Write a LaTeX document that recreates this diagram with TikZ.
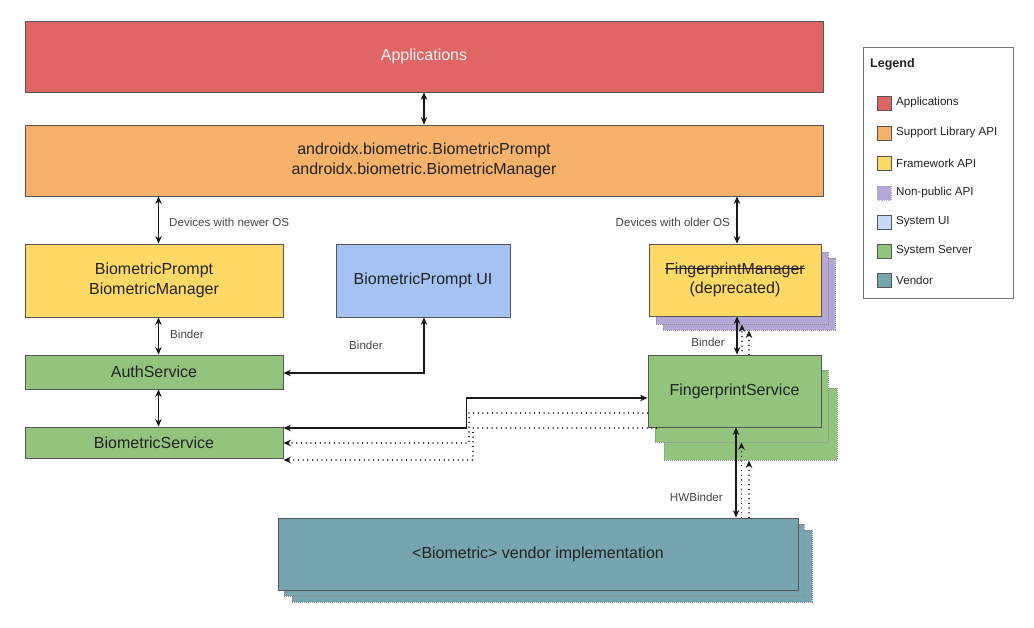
\documentclass[tikz,border=0pt]{standalone}
\usepackage{fontspec}
\setmainfont{Liberation Sans}
\newsavebox{\strkbox}
\newcommand{\mystrike}[1]{\sbox{\strkbox}{#1}\rlap{\rule[0.32em]{\wd\strkbox}{0.9pt}}\usebox{\strkbox}}
\usetikzlibrary{arrows.meta,calc}
\definecolor{cApp}{HTML}{E06666}
\definecolor{cSup}{HTML}{F6B26B}
\definecolor{cFw}{HTML}{FFD966}
\definecolor{cNp}{HTML}{B4A7D6}
\definecolor{cUI}{HTML}{A4C2F4}
\definecolor{cUIl}{HTML}{C9DAF8}
\definecolor{cSrv}{HTML}{93C47D}
\definecolor{cVen}{HTML}{76A5AF}
\definecolor{cLine}{HTML}{555555}
\definecolor{cTxt}{HTML}{222222}
\definecolor{cLbl}{HTML}{444444}
\tikzset{
  box/.style={draw=cLine, line width=0.9pt, text=cTxt, font=\fontsize{16}{19.5}\selectfont, align=center, inner sep=0pt},
  shadowbox/.style={draw=black!45, line width=0.8pt, dash pattern=on 0.8pt off 1.2pt, inner sep=0pt},
  lbl/.style={text=cLbl, font=\fontsize{11.6}{13}\selectfont, inner sep=0pt},
  legtxt/.style={text=cTxt, font=\fontsize{11.6}{13}\selectfont, inner sep=0pt, anchor=west},
  swatch/.style={draw=cLine, line width=0.8pt, minimum width=14, minimum height=14, inner sep=0pt},
  tip/.tip={Stealth[length=7.5pt,width=6.5pt]},
  dbl/.style={tip-tip, line width=1.2pt, draw=black!90},
  dotarr/.style={-tip, line width=1.3pt, draw=black!90, line cap=round, dash pattern=on 0.1pt off 4.6pt},
}
\begin{document}
\begin{tikzpicture}[x=1pt,y=-1pt]
\useasboundingbox (0,0) rectangle (1034,628);
% top layers
\node[box, fill=cApp, text=white!95!black, minimum width=798, minimum height=71] (app) at (424,56.5) {Applications};
\node[box, fill=cSup, minimum width=798, minimum height=71] (sup) at (424,160.5) {androidx.biometric.BiometricPrompt\\androidx.biometric.BiometricManager};
% framework
\node[box, fill=cFw, minimum width=258, minimum height=73] (bp) at (154,280.5) {BiometricPrompt\\BiometricManager};
\node[box, fill=cUI, minimum width=174, minimum height=73] (ui) at (423,280.5) {BiometricPrompt UI};
% fingerprint manager stack
\node[shadowbox, fill=cNp, minimum width=172, minimum height=72] (fmS2) at (749,294) {};
\node[shadowbox, fill=cNp, minimum width=172, minimum height=72] (fmS1) at (742,288) {};
\node[box, fill=cFw, minimum width=172, minimum height=72] (fm) at (735,280) {\mystrike{FingerprintManager}\\(deprecated)};
% system server
\node[box, fill=cSrv, minimum width=258, minimum height=34] (auth) at (154,372) {AuthService};
\node[box, fill=cSrv, minimum width=258, minimum height=31] (bs) at (154,442.5) {BiometricService};
% fingerprint service stack
\node[shadowbox, fill=cSrv, minimum width=173, minimum height=72] (fsS2) at (750.5,424) {};
\node[shadowbox, fill=cSrv, minimum width=173, minimum height=72] (fsS1) at (741.5,406) {};
% dotted arrows from fingerprint service copies to fingerprint manager copies
\draw[dotarr] (fmS1.south |- fsS1.north) -- (fmS1.south);
\draw[dotarr] (fmS2.south |- fsS2.north) -- (fmS2.south);
\node[box, fill=cSrv, minimum width=173, minimum height=72] (fs) at (734.5,391) {FingerprintService};
% vendor stack
\node[shadowbox, fill=cVen, minimum width=520, minimum height=72] (venS2) at (552,566) {};
\node[shadowbox, fill=cVen, minimum width=520, minimum height=72] (venS1) at (544,560) {};
\node[box, fill=cVen, minimum width=520, minimum height=72] (ven) at (538,554) {<Biometric> vendor implementation};
% connectors
\draw[dbl] (app.south) -- (sup.north);
\coordinate (nl) at ($(bp.north)+(4.5,0)$);
\draw[dbl] (nl |- sup.south) -- (nl);
\coordinate (ol) at ($(fm.north)+(2,0)$);
\draw[dbl] (ol |- sup.south) -- (ol);
\coordinate (bl) at ($(bp.south)+(4.5,0)$);
\draw[dbl] (bl) -- (bl |- auth.north);
\coordinate (al) at ($(auth.south)+(4.5,0)$);
\draw[dbl] (al) -- (al |- bs.north);
\draw[dbl] ($(ui.south)+(1,0)$) |- ($(auth.east)+(0,1)$);
\draw[dbl] ($(bs.east)+(0,-14.5)$) -- ++(183,0) |- ($(fs.west)+(0,7)$);
\draw[dotarr] ($(fs.west)+(0,22)$) -- (469,413) |- ($(bs.east)+(0,0.5)$);
\draw[dotarr] ($(fsS1.west)+(2,22)$) -- (473,428) |- ($(bs.east)+(0,17.5)$);
\coordinate (fl) at ($(fm.south)+(2,0)$);
\draw[dbl] (fl) -- (fl |- fs.north);
\coordinate (hl) at ($(fs.south)+(1.5,0)$);
\draw[dbl] (hl) -- (hl |- ven.north);
\draw[dotarr] (fsS1.south |- ven.north) -- (fsS1.south);
\draw[dotarr] ($(fsS2.south |- ven.north)+(-1.5,0)$) -- ($(fsS2.south)+(-1.5,0)$);
% labels
\node[lbl, anchor=west] (l1) at (169,222) {Devices with newer OS};
\node[lbl, anchor=east] (l2) at (730,222) {Devices with older OS};
\node[lbl, anchor=west] (l3) at (170,334) {Binder};
\node[lbl] (l4) at (366,345) {Binder};
\node[lbl, anchor=east] (l5) at (725,342) {Binder};
\node[lbl, anchor=east] (l6) at (723,497) {HWBinder};
% legend
\node[draw=black!55, line width=1pt, minimum width=150, minimum height=251, inner sep=0pt] (leg) at (938,173.5) {};
\node[text=cTxt, font=\bfseries\fontsize{12.5}{15}\selectfont, anchor=west, inner sep=0pt] (legt) at (870,64.5) {Legend};
\node[swatch, fill=cApp] (s1) at (884,103) {};
\node[legtxt] (t1) at (896,103) {Applications};
\node[swatch, fill=cSup] (s2) at (884,133) {};
\node[legtxt] (t2) at (896,133) {Support Library API};
\node[swatch, fill=cFw] (s3) at (884,163) {};
\node[legtxt] (t3) at (896,163) {Framework API};
\node[swatch, fill=cNp, draw=cNp!80!black!70, densely dotted] (s4) at (884,193) {};
\node[legtxt] (t4) at (896,193) {Non-public API};
\node[swatch, fill=cUIl] (s5) at (884,222) {};
\node[legtxt] (t5) at (896,222) {System UI};
\node[swatch, fill=cSrv] (s6) at (884,251) {};
\node[legtxt] (t6) at (896,251) {System Server};
\node[swatch, fill=cVen] (s7) at (884,280) {};
\node[legtxt] (t7) at (896,280) {Vendor};
\end{tikzpicture}
\end{document}
